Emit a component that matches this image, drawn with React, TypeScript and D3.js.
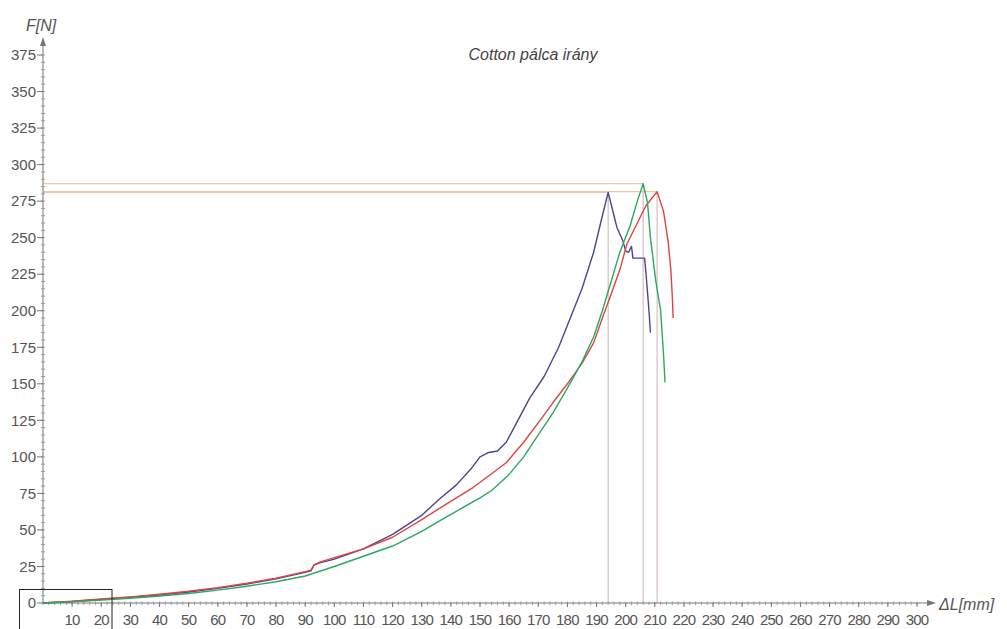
import React from "react";
import * as d3 from "d3";

// Force–elongation curves, ΔL [mm] vs F [N]
const blueSeries: [number, number][] = [
  [0, 0], [10, 1], [20, 2.5], [30, 4], [40, 5.5], [50, 7.5], [60, 10], [70, 13], [80, 16.5],
  [90, 21], [92, 22], [93, 26], [95, 27.5], [100, 30], [110, 37], [120, 47], [130, 60],
  [136, 71], [142, 81], [147, 92], [150, 100], [153, 103], [156, 104], [159, 110], [163, 125],
  [167, 140], [172, 155], [177, 175], [181, 195], [185, 215], [189, 240], [192, 265], [194, 281],
  [196, 265], [197, 257], [199, 248], [200, 241], [201, 240], [202, 244], [202.5, 236],
  [206.5, 236], [207, 225], [208, 200], [208.5, 185],
];

const redSeries: [number, number][] = [
  [0, 0], [10, 1.2], [20, 2.8], [30, 4.2], [40, 6], [50, 8], [60, 10.5], [70, 13.5], [80, 17],
  [90, 21.5], [92, 22.5], [93, 26], [95, 28], [100, 31], [110, 37], [120, 45], [130, 57],
  [138.7, 68], [147.6, 79], [155, 90], [159, 96], [165, 110], [170.6, 125], [175, 137],
  [180, 150], [185, 164], [189, 178], [192, 195], [194.6, 209], [198, 228], [200.5, 246],
  [204, 260], [207, 272], [210.8, 281.5], [213, 268], [214.6, 247], [215.5, 228], [216, 210],
  [216.3, 195],
];

const greenSeries: [number, number][] = [
  [0, 0], [10, 0.8], [20, 2], [30, 3.3], [40, 4.8], [50, 6.5], [60, 8.8], [70, 11.5], [80, 14.5],
  [90, 18.5], [100, 25], [110, 32], [120, 39], [130, 49], [136, 56], [143, 64], [150, 72],
  [154, 77], [160, 88], [165, 100], [170, 115], [175, 130], [180, 147], [185, 165], [189, 182],
  [192, 200], [195, 220], [198, 240], [201.5, 258], [204, 275], [206, 287], [207.5, 274],
  [208.5, 250], [210.3, 221], [212, 200], [213, 170], [213.5, 151],
];

const seriesColors = ["#4b4590", "#e0443e", "#2aa864"];

const xTicks = d3.range(10, 301, 10);
const yTicks = d3.range(0, 376, 25);

const W = 1007;
const H = 629;

export default function App() {
  const x = d3.scaleLinear().domain([0, 300]).range([43, 917]);
  const y = d3.scaleLinear().domain([0, 375]).range([603, 55]);
  const line = d3
    .line<[number, number]>()
    .x((d) => x(d[0]))
    .y((d) => y(d[1]));

  const all = [blueSeries, redSeries, greenSeries];
  const peaks = all.map((s) => s.reduce((m, p) => (p[1] > m[1] ? p : m), s[0]));

  const xMinor = d3.range(0, 301, 2);
  const yMinor = d3.range(0, 376, 5);
  const font = "'Liberation Sans', Arial, sans-serif";

  return (
    <svg
      width={W}
      height={H}
      style={{ position: "absolute", left: 0, top: 0, background: "#fff" }}
      fontFamily={font}
    >
      {/* peak guide lines */}
      {peaks.map((p, i) => (
        <g key={"g" + i}>
          <line x1={x(0)} x2={x(p[0])} y1={y(p[1])} y2={y(p[1])} stroke="#f2c6a4" strokeWidth={1.2} />
          <line x1={x(p[0])} x2={x(p[0])} y1={y(p[1])} y2={y(0)} stroke="#d9bcc4" strokeWidth={1.2} />
        </g>
      ))}

      {/* y axis */}
      <line x1={x(0)} x2={x(0)} y1={y(0)} y2={40} stroke="#777" strokeWidth={1} />
      <path d={`M${x(0) - 3},${46} L${x(0)},${37} L${x(0) + 3},${46} Z`} fill="#777" />
      {yMinor.map((v) => (
        <line key={"ym" + v} x1={x(0) - 2} x2={x(0) + 2} y1={y(v)} y2={y(v)} stroke="#999" strokeWidth={1} />
      ))}
      {yTicks.map((v) => (
        <g key={"yt" + v}>
          <line x1={x(0) - 6} x2={x(0)} y1={y(v)} y2={y(v)} stroke="#777" strokeWidth={1} />
          <text x={36} y={y(v)} dy="0.35em" textAnchor="end" fontSize={15} fill="#555">
            {v}
          </text>
        </g>
      ))}

      {/* x axis */}
      <line x1={x(0)} x2={933} y1={y(0)} y2={y(0)} stroke="#777" strokeWidth={1} />
      <path d={`M${927},${y(0) - 3} L${936},${y(0)} L${927},${y(0) + 3} Z`} fill="#777" />
      {xMinor.map((v) => (
        <line key={"xm" + v} x1={x(v)} x2={x(v)} y1={y(0) - 1.5} y2={y(0) + 2} stroke="#999" strokeWidth={1} />
      ))}
      {xTicks.map((v) => (
        <g key={"xt" + v}>
          <line x1={x(v)} x2={x(v)} y1={y(0)} y2={y(0) + 4} stroke="#777" strokeWidth={1} />
          <text x={x(v)} y={620} dy="0.35em" textAnchor="middle" fontSize={15} letterSpacing={-0.8} fill="#555">
            {v}
          </text>
        </g>
      ))}

      {/* curves */}
      {all.map((s, i) => (
        <path key={"c" + i} d={line(s) || ""} fill="none" stroke={seriesColors[i]} strokeWidth={1.4} strokeLinejoin="round" />
      ))}

      {/* frame at the origin */}
      <rect x={19.5} y={589.5} width={92.5} height={50} fill="none" stroke="#222" strokeWidth={1} />

      {/* labels */}
      <text x={26} y={25} dy="0.35em" fontSize={16} fontStyle="italic" fill="#555">
        F[N]
      </text>
      <text x={939} y={604} dy="0.35em" fontSize={16} fontStyle="italic" fill="#555">
        ΔL[mm]
      </text>
      <text x={533} y={54} dy="0.35em" textAnchor="middle" fontSize={16} fontStyle="italic" fill="#444">
        Cotton pálca irány
      </text>
    </svg>
  );
}
